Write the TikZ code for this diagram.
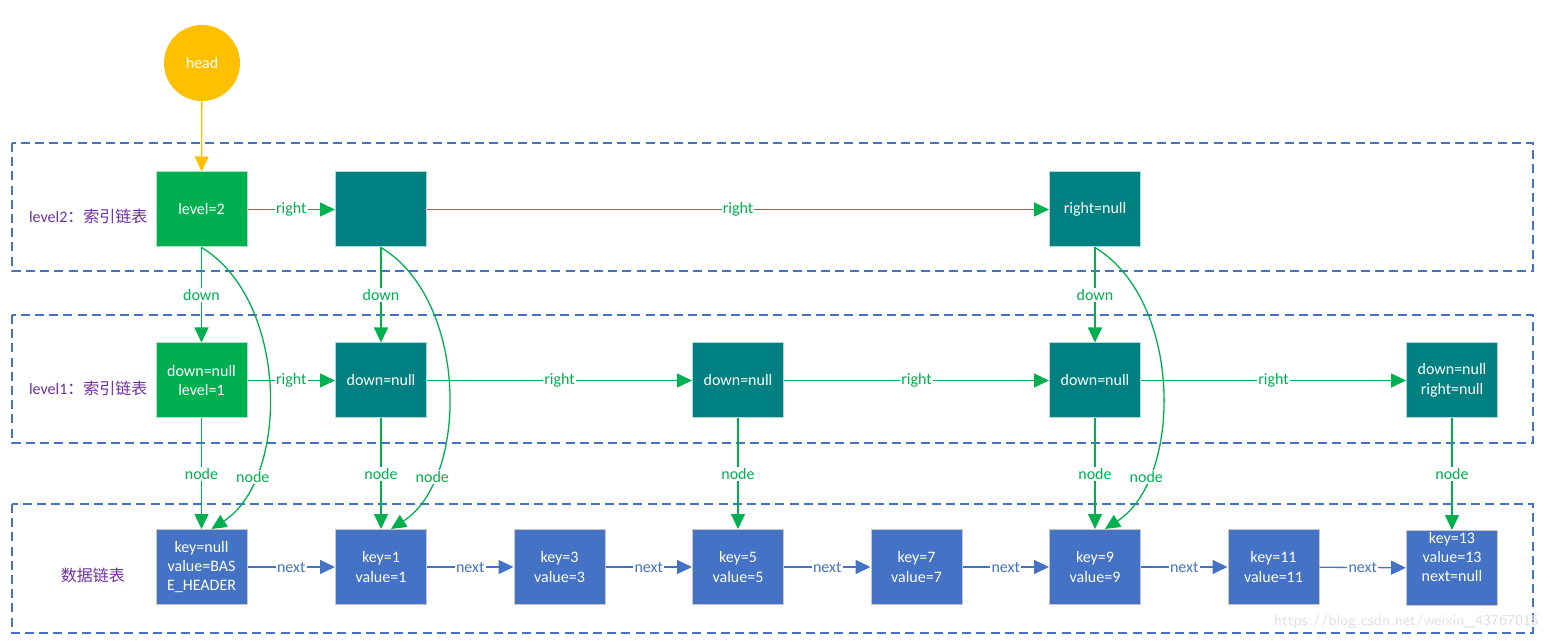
\documentclass[tikz,border=0pt]{standalone}
\usepackage{fontspec}
\setmainfont{Carlito}
\newfontfamily\cjk{Noto Sans CJK SC}
\usetikzlibrary{arrows.meta}
\definecolor{lvgreen}{HTML}{00B050}
\definecolor{lvteal}{HTML}{008080}
\definecolor{lvblue}{HTML}{4472C4}
\definecolor{lvgold}{HTML}{FFC000}
\definecolor{lvpurple}{HTML}{7030A0}
\begin{document}
\begin{tikzpicture}[x=0.5pt,y=-0.5pt,
    every node/.style={font=\fontsize{8}{9.7}\selectfont},
    cell/.style={minimum width=45.5pt,minimum height=37.5pt,inner sep=0pt,
      align=center,text=white,line width=0.5pt},
    firstcell/.style={cell,fill=lvgreen,draw=lvgreen!35},
    idxcell/.style={cell,fill=lvteal,draw=lvteal!30},
    datcell/.style={cell,fill=lvblue,draw=black!22},
    lane/.style={draw=lvblue,line width=0.65pt,dash pattern=on 4.5pt off 2.6pt},
    lanetext/.style={text=lvpurple,font=\fontsize{8}{9}\selectfont},
    link/.style={draw=lvgreen,line width=0.65pt,-{Triangle[length=7.5pt,width=7pt]}},
    nextlink/.style={draw=lvblue,line width=0.65pt,-{Triangle[length=7.5pt,width=7pt]}},
    tag/.style={fill=white,inner sep=0.6pt,text=lvgreen},
    nexttag/.style={fill=white,inner sep=0.6pt,text=lvblue}]
  \useasboundingbox (0,0) rectangle (1552,641);

  % Drawing the three lanes
  \draw [lane] (12,143) rectangle (1533,271);
  \draw [lane] (12,315) rectangle (1533,443);
  \draw [lane] (12,504) rectangle (1533,633);
  \node [lanetext,anchor=west] (lab2) at (22,216) {level2\cjk：索引链表};
  \node [lanetext,anchor=west] (lab1) at (22,388) {level1\cjk：索引链表};
  \node [lanetext] (labd) at (93,575) {\cjk 数据链表};

  % Drawing head
  \node [circle,fill=lvgold,minimum size=38pt,inner sep=0pt,text=white] (head) at (202,63) {head};

  % Drawing level 2
  \node [firstcell] (top1) at (201.5,209.5) {level=2};
  \node [idxcell] (top2) at (381,209.5) {};
  \node [idxcell] (top3) at (1095,209.5) {right=null};

  % Drawing level 1
  \node [firstcell] (mid1) at (201.5,380.5) {down=null\\level=1};
  \node [idxcell] (mid2) at (381,380.5) {down=null};
  \node [idxcell] (mid3) at (738,380.5) {down=null};
  \node [idxcell] (mid4) at (1095,380.5) {down=null};
  \node [idxcell] (mid5) at (1452,380.5) {down=null\\right=null};

  % Drawing data list
  \node [datcell] (dat1) at (201.5,567) {key=null\\value=BAS\\E\_HEADER};
  \node [datcell] (dat2) at (381,567) {key=1\\value=1};
  \node [datcell] (dat3) at (559.5,567) {key=3\\value=3};
  \node [datcell] (dat4) at (738,567) {key=5\\value=5};
  \node [datcell] (dat5) at (916.5,567) {key=7\\value=7};
  \node [datcell] (dat6) at (1095,567) {key=9\\value=9};
  \node [datcell] (dat7) at (1273.5,567) {key=11\\value=11};
  \node [datcell,anchor=north] (dat8) at (1452,530) {};
  \node [text=white,align=center,anchor=north] (dat8txt) at (1452,525) {key=13\\value=13\\next=null};

  % Drawing head pointer
  \draw [link,draw=lvgold] (head) -- (top1);

  % Drawing right links
  \draw [link] (top1) -- node [tag] {right} (top2);
  \draw [link] (top2) -- node [tag] {right} (top3);
  \draw [link] (mid1) -- node [tag] {right} (mid2);
  \draw [link] (mid2) -- node [tag] {right} (mid3);
  \draw [link] (mid3) -- node [tag] {right} (mid4);
  \draw [link] (mid4) -- node [tag] {right} (mid5);

  % Drawing down links
  \draw [link] (top1) -- node [tag] {down} (mid1);
  \draw [link] (top2) -- node [tag] {down} (mid2);
  \draw [link] (top3) -- node [tag] {down} (mid4);

  % Drawing node links
  \draw [link] (mid1) -- node [tag] {node} (dat1);
  \draw [link] (mid2) -- node [tag] {node} (dat2);
  \draw [link] (mid3) -- node [tag] {node} (dat4);
  \draw [link] (mid4) -- node [tag] {node} (dat6);
  \draw [link] (mid5) -- node [tag] {node} (dat8);

  % Drawing node links from level 2
  \draw [link] (top1.south) .. controls +(88,53) and +(78,-50) .. node [tag,pos=0.77] {node} ([xshift=5pt]dat1.north);
  \draw [link] (top2.south) .. controls +(88,53) and +(78,-50) .. node [tag,pos=0.77] {node} ([xshift=5pt]dat2.north);
  \draw [link] (top3.south) .. controls +(88,53) and +(78,-50) .. node [tag,pos=0.77] {node} ([xshift=5pt]dat6.north);

  % Drawing next links
  \draw [nextlink] (dat1) -- node [nexttag] {next} (dat2);
  \draw [nextlink] (dat2) -- node [nexttag] {next} (dat3);
  \draw [nextlink] (dat3) -- node [nexttag] {next} (dat4);
  \draw [nextlink] (dat4) -- node [nexttag] {next} (dat5);
  \draw [nextlink] (dat5) -- node [nexttag] {next} (dat6);
  \draw [nextlink] (dat6) -- node [nexttag] {next} (dat7);
  \draw [nextlink] (dat7) -- node [nexttag] {next} (dat8);

  % Marking watermark
  \node [text=black!12,font=\fontsize{7.5}{9}\selectfont\sffamily,anchor=east] (mark) at (1546,622) {https://blog.csdn.net/weixin\_43767015};
\end{tikzpicture}
\end{document}
